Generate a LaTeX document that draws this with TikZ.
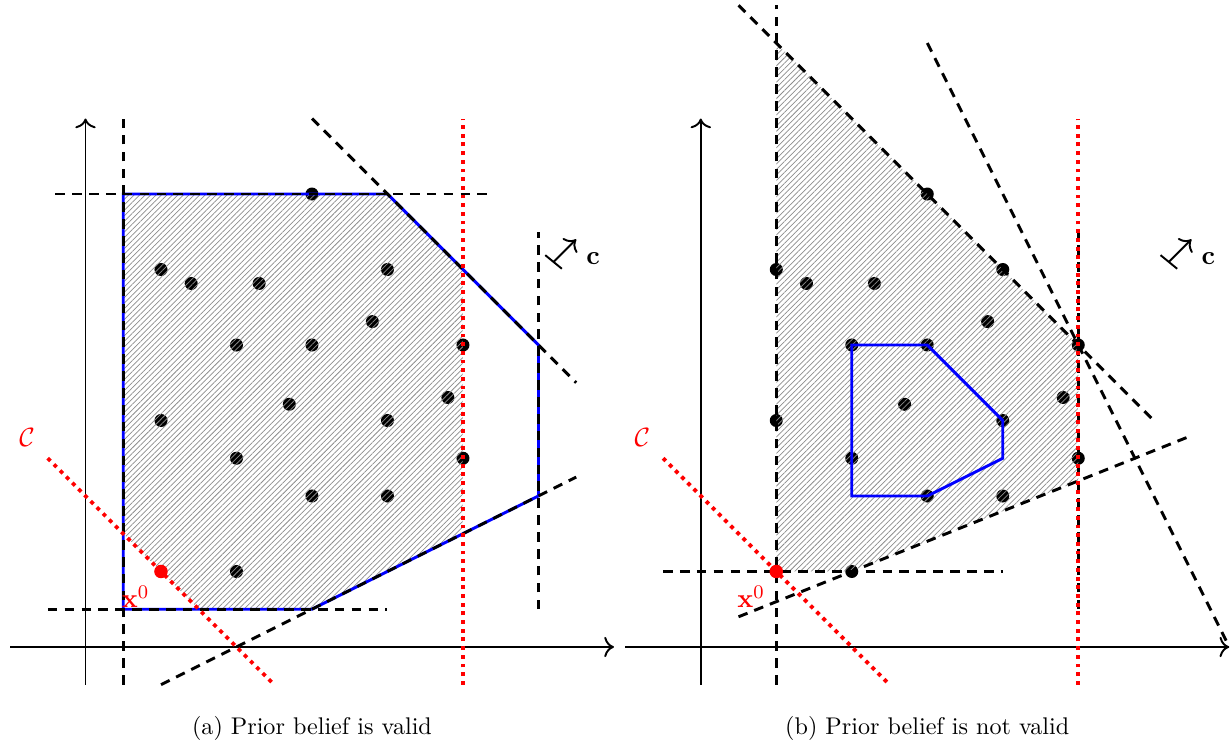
\documentclass[tikz,border=0pt]{standalone}
\usepackage{amsmath,amssymb}
\usepackage{tikz}
\usepackage{xcolor}
\usetikzlibrary{arrows.meta,patterns.meta}
\definecolor{CutRed}{HTML}{FF0000}
\definecolor{HullBlue}{HTML}{0000FF}
\definecolor{HatchGray}{HTML}{8C8C8C}

\begin{document}
\begin{tikzpicture}[x=0.55cm, y=0.55cm, >={To[scale=1.2]},
    ineq/.style={very thick, dash pattern=on 4pt off 3pt},
    cutline/.style={CutRed, ultra thick, dotted},
    hull/.style={HullBlue, very thick},
    lbl/.style={font=\fontsize{11}{13}\selectfont},
    feas/.style={pattern={Lines[angle=45, distance=1.6pt, line width=0.3pt]}, pattern color=HatchGray}]

    \useasboundingbox (-2.265,-2.57) rectangle (30.32,17.14);

    % Panel (a): prior belief is valid
    \begin{scope}
        % Integer points
        \foreach \px/\py in {2/10, 2.8/9.63, 4.6/9.63, 6/12, 8/10, 7.6/8.62, 4/8, 6/8, 10/8, 2/6,
                5.4/6.43, 8/6, 9.6/6.61, 4/5, 10/5, 6/4, 8/4, 4/2}
            \fill (\px,\py) circle (2.7pt);

        % Feasible region above the cut
        \fill[feas] (1,3) -- (1,12) -- (8,12) -- (10,10) -- (10,3) -- (6,1) -- (3,1) -- cycle;

        % Axes
        \draw[->, thick] (-2,0) -- (14,0);
        \draw[->, thick] (0,-1) -- (0,14);

        % Convex hull
        \draw[hull] (1,1) -- (6,1) -- (12,4) -- (12,8) -- (8,12) -- (1,12) -- cycle;

        % Constraints
        \draw[ineq] (1,-1) -- (1,14);
        \draw[ineq] (-0.8,12) -- (10.8,12);
        \draw[ineq] (-1,1) -- (8,1);
        \draw[ineq] (12,1) -- (12,11);
        \draw[ineq] (6,14) -- (13,7);
        \draw[ineq] (2,-1) -- (13,4.5);

        % Prior belief
        \draw[cutline] (10,-1) -- (10,14);
        \draw[cutline] (-1,5) -- (5,-1);
        \node[CutRed, lbl] (cutA) at (-1.55,5.55) {$\mathcal{C}$};

        % Starting point
        \fill[CutRed] (2,2) circle (2.8pt);
        \node[CutRed, lbl] (xA) at (1.33,1.33) {$\mathbf{x}^0$};

        % Objective
        \coordinate (objA) at (12.4,10.2);
        \draw[thick] (12.18,10.38) -- (12.62,10.02);
        \draw[->, thick] (objA) -- ++(0.6,0.6);
        \node[lbl] (cA) at (13.45,10.3) {$\mathbf{c}$};

        \node (capA) at (6,-2.15) {(a) Prior belief is valid};
    \end{scope}

    % Panel (b): prior belief is not valid
    \begin{scope}[shift={(16.3,0)}]
        % Integer points
        \foreach \px/\py in {2/10, 2.8/9.63, 4.6/9.63, 6/12, 8/10, 7.6/8.62, 4/8, 6/8, 10/8, 2/6,
                5.4/6.43, 8/6, 9.6/6.61, 4/5, 10/5, 6/4, 8/4, 4/2}
            \fill (\px,\py) circle (2.7pt);

        % Feasible region
        \fill[feas] (2,2) -- (4,2) -- (10,4.4) -- (10,8) -- (2,16) -- cycle;

        % Axes
        \draw[->, thick] (-2,0) -- (14,0);
        \draw[->, thick] (0,-1) -- (0,14);

        % Convex hull
        \draw[hull] (4,4) -- (4,8) -- (6,8) -- (8,6) -- (8,5) -- (6,4) -- cycle;

        % Constraints
        \draw[ineq] (2,-1) -- (2,17);
        \draw[ineq] (-1,2) -- (8,2);
        \draw[ineq] (1,17) -- (12,6);
        \draw[ineq] (6,16) -- (14,0);
        \draw[ineq] (1,0.8) -- (13,5.6);
        \draw[ineq] (10,1) -- (10,11);

        % Prior belief
        \draw[cutline] (10,-1) -- (10,14);
        \draw[cutline] (-1,5) -- (5,-1);
        \node[CutRed, lbl] (cutB) at (-1.55,5.55) {$\mathcal{C}$};

        % Starting point
        \fill[CutRed] (2,2) circle (2.8pt);
        \node[CutRed, lbl] (xB) at (1.33,1.33) {$\mathbf{x}^0$};

        % Objective
        \coordinate (objB) at (12.4,10.2);
        \draw[thick] (12.18,10.38) -- (12.62,10.02);
        \draw[->, thick] (objB) -- ++(0.6,0.6);
        \node[lbl] (cB) at (13.45,10.3) {$\mathbf{c}$};

        \node (capB) at (6,-2.15) {(b) Prior belief is not valid};
    \end{scope}

\end{tikzpicture}
\end{document}
